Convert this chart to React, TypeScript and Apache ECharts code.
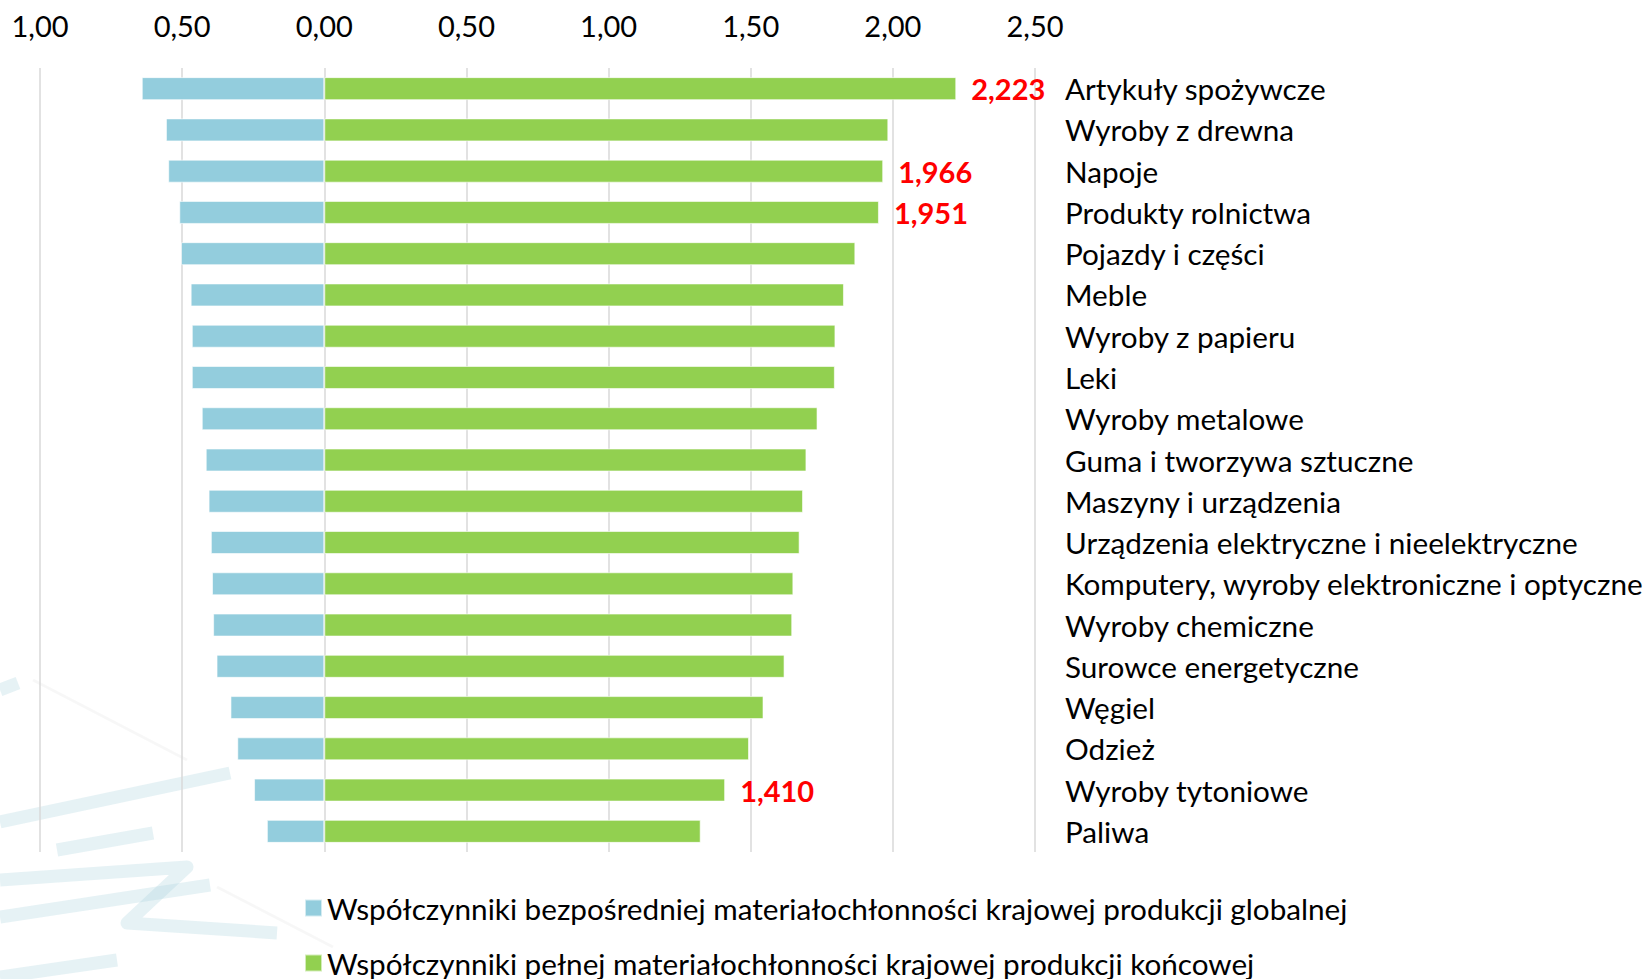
import React, { useEffect, useRef } from "react";
import * as echarts from "echarts";

const categories = [
  "Artykuły spożywcze",
  "Wyroby z drewna",
  "Napoje",
  "Produkty rolnictwa",
  "Pojazdy i części",
  "Meble",
  "Wyroby z papieru",
  "Leki",
  "Wyroby metalowe",
  "Guma i tworzywa sztuczne",
  "Maszyny i urządzenia",
  "Urządzenia elektryczne i nieelektryczne",
  "Komputery, wyroby elektroniczne i optyczne",
  "Wyroby chemiczne",
  "Surowce energetyczne",
  "Węgiel",
  "Odzież",
  "Wyroby tytoniowe",
  "Paliwa",
];

// Współczynniki bezpośredniej materiałochłonności (drawn to the left)
const directCoef = [
  0.642, 0.557, 0.549, 0.51, 0.504, 0.47, 0.466, 0.466, 0.431, 0.417, 0.407,
  0.399, 0.395, 0.391, 0.379, 0.33, 0.306, 0.247, 0.202,
];

// Współczynniki pełnej materiałochłonności (drawn to the right)
const fullCoef = [
  2.223, 1.984, 1.966, 1.951, 1.868, 1.828, 1.798, 1.796, 1.735, 1.696, 1.684,
  1.672, 1.65, 1.646, 1.619, 1.545, 1.494, 1.41, 1.324,
];

const labelledCategories = [
  "Artykuły spożywcze",
  "Napoje",
  "Produkty rolnictwa",
  "Wyroby tytoniowe",
];

const seriesNames = [
  "Współczynniki bezpośredniej materiałochłonności krajowej produkcji globalnej",
  "Współczynniki pełnej materiałochłonności krajowej produkcji końcowej",
];

const axisMin = -1;
const axisMax = 2.5;
const axisStep = 0.5;

const FONT = "Lato, 'Noto Sans', sans-serif";

export default function App() {
  const ref = useRef<HTMLDivElement>(null);

  useEffect(() => {
    document.body.style.margin = "0";
    if (!ref.current) return;
    const chart = echarts.init(ref.current, null, { renderer: "svg" });

    const wm = "rgba(165, 208, 218, 0.28)";
    const strokes: [number, number][][] = [
      [[0, 690], [18, 683]],
      [[0, 822], [230, 773]],
      [[57, 850], [153, 833]],
      [[0, 880], [187, 867], [127, 923], [277, 933]],
      [[0, 917], [210, 885]],
      [[0, 977], [117, 960]],
    ];
    const faint: [number, number][][] = [
      [[33, 680], [187, 760]],
      [[217, 887], [333, 947]],
    ];
    const watermark = [
      ...strokes.map((pts) => ({
        type: "polyline",
        silent: true,
        z: -10,
        shape: { points: pts },
        style: { stroke: wm, lineWidth: 13, lineJoin: "round", fill: null },
      })),
      ...faint.map((pts) => ({
        type: "polyline",
        silent: true,
        z: -10,
        shape: { points: pts },
        style: { stroke: "rgba(0,0,0,0.03)", lineWidth: 3, fill: null },
      })),
    ];

    chart.setOption({
      animation: false,
      backgroundColor: "#ffffff",
      textStyle: { fontFamily: FONT },
      graphic: watermark,
      grid: { left: 40, right: 613, top: 68, bottom: 127, containLabel: false },
      legend: {
        orient: "vertical",
        left: 304,
        top: 891,
        height: 200,
        padding: 0,
        itemWidth: 17,
        itemHeight: 17,
        itemGap: 21,
        icon: "rect",
        textStyle: {
          fontFamily: FONT,
          fontSize: 29.7,
          lineHeight: 34,
          color: "#000000",
        },
        data: seriesNames,
      },
      xAxis: {
        type: "value",
        position: "top",
        min: axisMin,
        max: axisMax,
        interval: axisStep,
        axisLine: { show: false },
        axisTick: { show: false },
        axisLabel: {
          margin: 28,
          fontSize: 29,
          fontFamily: FONT,
          color: "#000000",
          formatter: (v: number) => Math.abs(v).toFixed(2).replace(".", ","),
        },
        splitLine: { show: true, lineStyle: { color: "#d9d9d9", width: 1.5 } },
      },
      yAxis: {
        type: "category",
        position: "right",
        inverse: true,
        data: categories,
        axisLine: { show: false },
        axisTick: { show: false },
        axisLabel: {
          align: "left",
          margin: 30,
          fontSize: 29.7,
          fontFamily: FONT,
          color: "#000000",
        },
      },
      series: [
        {
          name: seriesNames[0],
          type: "bar",
          barWidth: 23,
          barGap: "-100%",
          itemStyle: {
            color: "#93CDDD",
            borderColor: "rgba(255,255,255,0.6)",
            borderWidth: 1,
          },
          data: directCoef.map((v) => -v),
        },
        {
          name: seriesNames[1],
          type: "bar",
          barWidth: 23,
          barGap: "-100%",
          itemStyle: {
            color: "#92D050",
            borderColor: "rgba(255,255,255,0.6)",
            borderWidth: 1,
          },
          data: fullCoef.map((v, i) => ({
            value: v,
            label: {
              show: labelledCategories.includes(categories[i]),
              position: "right",
              distance: 15,
              color: "#FF0000",
              fontWeight: "bold",
              fontSize: 29,
              fontFamily: FONT,
              formatter: (p: any) => Number(p.value).toFixed(3).replace(".", ","),
            },
          })),
        },
      ],
    });

    return () => chart.dispose();
  }, []);

  return <div ref={ref} style={{ width: 1648, height: 979 }} />;
}
